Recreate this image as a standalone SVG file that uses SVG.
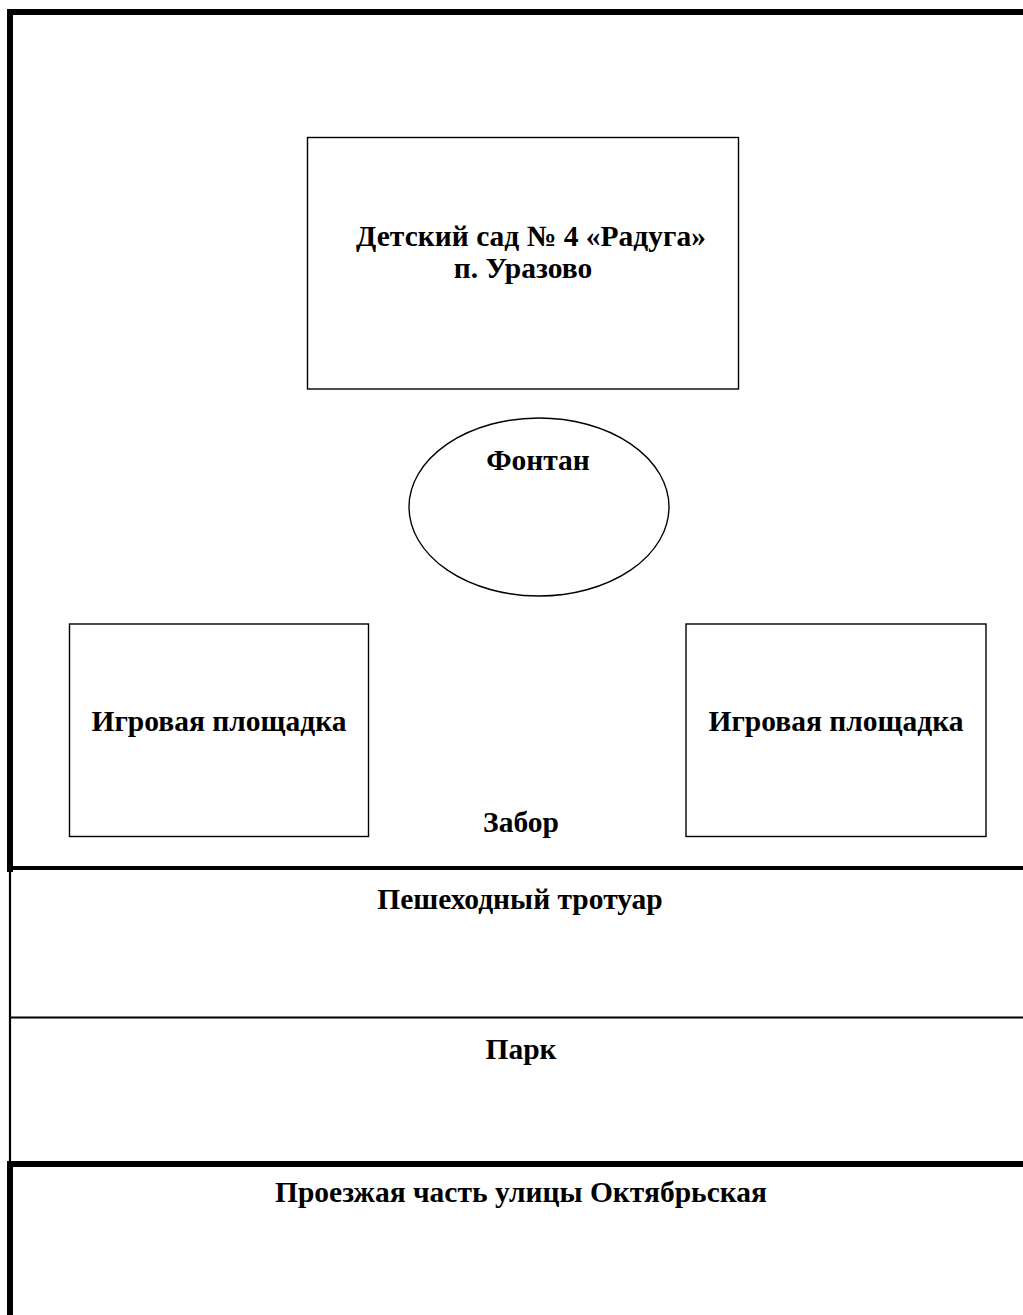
<svg xmlns="http://www.w3.org/2000/svg" width="1023" height="1315" viewBox="0 0 1023 1315">
<style>
.t{font-family:"Liberation Serif","Times New Roman",serif;font-weight:bold;font-size:29.5px;fill:#000;text-anchor:middle}
.box{fill:#fff;stroke:#000;stroke-width:1.4}
.thick{stroke:#000;stroke-width:6;fill:none}
.thin{stroke:#000;stroke-width:2.2;fill:none}
</style>
<rect width="1023" height="1315" fill="#fff"/>
<g id="borders">
<line class="thick" x1="7" y1="12" x2="1023" y2="12"/>
<line class="thick" x1="10" y1="9" x2="10" y2="872"/>
<line stroke="#000" stroke-width="4" x1="7" y1="868" x2="1023" y2="868"/>
<line class="thin" x1="10" y1="868" x2="10" y2="1164"/>
<line class="thin" x1="10" y1="1017.5" x2="1023" y2="1017.5"/>
<line class="thick" x1="7" y1="1164" x2="1023" y2="1164"/>
<line class="thick" x1="10" y1="1161" x2="10" y2="1315"/>
</g>
<g id="kindergarten">
<rect class="box" x="307.5" y="137.5" width="431" height="251.5"/>
<text class="t" x="531" y="246">Детский сад № 4 «Радуга»</text>
<text class="t" x="523" y="278">п. Уразово</text>
</g>
<g id="fountain">
<ellipse class="box" cx="539" cy="507" rx="130" ry="89"/>
<text class="t" x="538" y="470">Фонтан</text>
</g>
<g id="playground-left">
<rect class="box" x="69.5" y="624" width="299" height="212.5"/>
<text class="t" x="219" y="731">Игровая площадка</text>
</g>
<g id="playground-right">
<rect class="box" x="686" y="624" width="300" height="212.5"/>
<text class="t" x="836" y="731">Игровая площадка</text>
</g>
<g id="labels">
<text class="t" x="521" y="832">Забор</text>
<text class="t" x="520" y="909">Пешеходный тротуар</text>
<text class="t" x="521" y="1059">Парк</text>
<text class="t" x="521" y="1202">Проезжая часть улицы Октябрьская</text>
</g>
</svg>
